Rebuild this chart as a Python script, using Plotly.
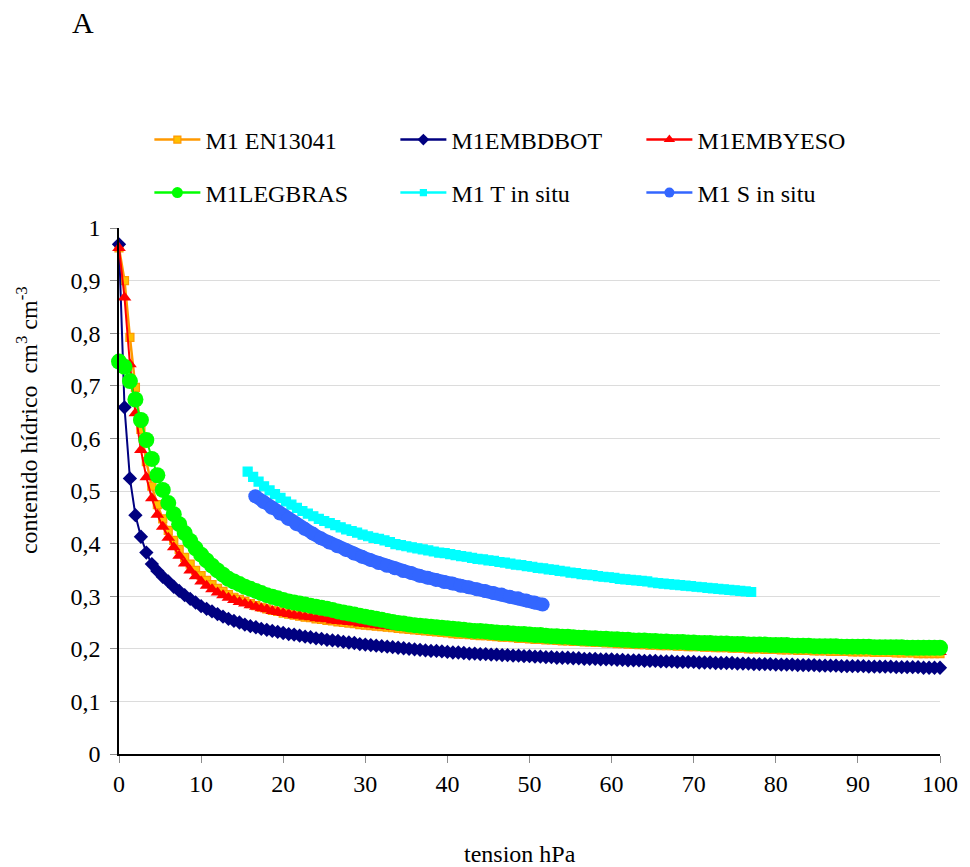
import plotly.graph_objects as go

# Tension grid (hPa) shared by the four laboratory curves, and the in-situ grids
tension_hpa = [round(k * 2 / 3, 2) for k in range(151)]
tension_t_in_situ = [round(15.67 + k * 2 / 3, 2) for k in range(93)]
tension_s_in_situ = [round(16.6 + k, 1) for k in range(36)]

# Water content (cm3 cm-3) for each series
m1_en13041 = [
    .962, .900, .792, .697, .617, .556, .509, .474, .447, .425,
    .406, .389, .374, .361, .349, .339, .330, .322, .315, .309,
    .303, .298, .294, .290, .286, .282, .279, .276, .273, .271,
    .268, .266, .264, .262, .260, .259, .257, .256, .254, .253,
    .251, .250, .249, .248, .246, .245, .244, .243, .242, .241,
    .240, .239, .238, .237, .236, .235, .234, .233, .232, .231,
    .230, .229, .228, .228, .227, .226, .225, .225, .224, .223,
    .222, .222, .221, .220, .220, .219, .218, .218, .217, .217,
    .216, .215, .215, .214, .214, .213, .213, .212, .212, .211,
    .211, .210, .210, .209, .209, .208, .208, .207, .207, .206,
    .206, .206, .205, .205, .204, .204, .204, .203, .203, .202,
    .202, .202, .201, .201, .201, .200, .200, .200, .199, .199,
    .199, .198, .198, .198, .197, .197, .197, .196, .196, .196,
    .195, .195, .195, .195, .194, .194, .194, .194, .193, .193,
    .193, .193, .192, .192, .192, .192, .191, .191, .191, .191,
    .191,
]

m1_embdbot = [
    .969, .659, .524, .454, .413, .383, .361, .348, .337, .328,
    .318, .310, .302, .295, .288, .281, .276, .271, .266, .261,
    .257, .253, .250, .246, .243, .241, .238, .236, .234, .232,
    .230, .228, .227, .225, .223, .222, .220, .219, .217, .216,
    .215, .213, .212, .211, .209, .208, .207, .206, .205, .204,
    .203, .202, .201, .200, .199, .198, .197, .196, .196, .195,
    .194, .193, .193, .192, .191, .191, .190, .190, .189, .189,
    .188, .188, .187, .187, .186, .186, .185, .185, .184, .184,
    .183, .183, .183, .182, .182, .181, .181, .181, .180, .180,
    .180, .179, .179, .178, .178, .178, .177, .177, .177, .176,
    .176, .176, .175, .175, .175, .175, .174, .174, .174, .173,
    .173, .173, .173, .172, .172, .172, .171, .171, .171, .171,
    .170, .170, .170, .170, .169, .169, .169, .169, .168, .168,
    .168, .168, .167, .167, .167, .167, .167, .166, .166, .166,
    .166, .166, .165, .165, .165, .165, .165, .164, .164, .164,
    .164,
]

m1_embyeso = [
    .962, .868, .741, .648, .578, .526, .486, .455, .432, .411,
    .393, .377, .362, .349, .338, .328, .320, .313, .307, .302,
    .297, .293, .289, .286, .283, .280, .277, .275, .272, .270,
    .268, .266, .264, .263, .261, .260, .258, .257, .256, .254,
    .253, .252, .251, .250, .248, .247, .246, .245, .244, .243,
    .242, .241, .240, .239, .238, .237, .236, .235, .234, .233,
    .232, .231, .231, .230, .229, .228, .228, .227, .226, .225,
    .225, .224, .223, .223, .222, .221, .221, .220, .220, .219,
    .218, .218, .217, .217, .216, .216, .215, .215, .214, .214,
    .213, .213, .212, .212, .211, .211, .210, .210, .209, .209,
    .209, .208, .208, .207, .207, .207, .206, .206, .205, .205,
    .205, .204, .204, .204, .203, .203, .203, .202, .202, .202,
    .201, .201, .201, .200, .200, .200, .200, .199, .199, .199,
    .198, .198, .198, .198, .197, .197, .197, .197, .196, .196,
    .196, .196, .195, .195, .195, .195, .195, .194, .194, .194,
    .194,
]

m1_legbras = [
    .746, .736, .709, .674, .635, .597, .561, .530, .502, .477,
    .456, .437, .420, .405, .391, .379, .368, .358, .349, .341,
    .333, .328, .323, .318, .314, .310, .306, .302, .299, .296,
    .293, .290, .288, .286, .284, .282, .280, .278, .276, .274,
    .271, .269, .267, .265, .263, .261, .259, .257, .255, .253,
    .251, .249, .248, .246, .245, .244, .243, .242, .241, .240,
    .239, .238, .237, .236, .235, .234, .234, .233, .232, .231,
    .230, .230, .229, .228, .228, .227, .226, .226, .225, .224,
    .224, .223, .223, .222, .221, .221, .220, .220, .219, .219,
    .218, .218, .217, .217, .216, .216, .216, .215, .215, .214,
    .214, .213, .213, .213, .212, .212, .211, .211, .211, .210,
    .210, .210, .209, .209, .209, .208, .208, .208, .208, .207,
    .207, .207, .207, .206, .206, .206, .206, .205, .205, .205,
    .205, .205, .204, .204, .204, .204, .204, .204, .203, .203,
    .203, .203, .203, .203, .202, .202, .202, .202, .202, .202,
    .202,
]

m1_t_in_situ = [
    .537, .527, .518, .509, .501, .494, .487, .480, .474, .468,
    .462, .457, .452, .447, .443, .439, .435, .431, .427, .424,
    .421, .417, .414, .411, .409, .406, .403, .399, .397, .395,
    .393, .391, .389, .387, .385, .383, .382, .380, .378, .376,
    .375, .373, .371, .370, .368, .367, .365, .364, .362, .360,
    .359, .357, .356, .354, .353, .351, .350, .348, .347, .345,
    .344, .342, .341, .340, .338, .337, .336, .335, .333, .332,
    .331, .330, .329, .328, .326, .325, .324, .323, .322, .321,
    .320, .319, .318, .317, .316, .315, .314, .313, .312, .311,
    .310, .309, .308,
]

m1_s_in_situ = [
    .490, .479, .468, .457, .447, .437, .428, .419, .410, .402,
    .395, .388, .381, .375, .369, .363, .358, .353, .348, .344,
    .339, .335, .331, .327, .324, .320, .317, .313, .310, .306,
    .303, .299, .296, .292, .288, .284,
]

SERIF = "Liberation Serif"
FONT_SIZE = 24

series = [
    dict(name="M1 EN13041", x=tension_hpa, y=m1_en13041, line="#FF9900",
         fill="#FFC000", symbol="square", size=8, width=2.5, legend="legend", lsize=7),
    dict(name="M1EMBDBOT", x=tension_hpa, y=m1_embdbot, line="#000080",
         fill="#000080", symbol="diamond", size=11, width=2, legend="legend", lsize=9),
    dict(name="M1EMBYESO", x=tension_hpa, y=m1_embyeso, line="#FF0000",
         fill="#FF0000", symbol="triangle-up", size=12, width=2, legend="legend", lsize=10),
    dict(name="M1LEGBRAS", x=tension_hpa, y=m1_legbras, line="#00FF00",
         fill="#00FF00", symbol="circle", size=16, width=2, legend="legend2", lsize=11),
    dict(name="M1 T in situ", x=tension_t_in_situ, y=m1_t_in_situ, line="#00FFFF",
         fill="#00FFFF", symbol="square", size=9, width=3, legend="legend2", lsize=6),
    dict(name="M1 S in situ", x=tension_s_in_situ, y=m1_s_in_situ, line="#3366FF",
         fill="#3366FF", symbol="circle", size=14, width=13, legend="legend2", lsize=10),
]

fig = go.Figure()

for s in series:
    fig.add_trace(go.Scatter(
        x=s["x"], y=s["y"], mode="lines+markers", showlegend=False,
        line=dict(color=s["line"], width=s["width"]),
        marker=dict(symbol=s["symbol"], size=s["size"], color=s["fill"],
                    line=dict(color=s["line"], width=1.2 if s["symbol"] == "square" else 0)),
        cliponaxis=False,
    ))

# Legend entries use smaller symbols than the plotted markers
for s in series:
    fig.add_trace(go.Scatter(
        x=[None], y=[None], mode="lines+markers", name=s["name"], legend=s["legend"],
        line=dict(color=s["line"], width=2.5),
        marker=dict(symbol=s["symbol"], size=s["lsize"], color=s["fill"],
                    line=dict(color=s["line"], width=1.2 if s["symbol"] == "square" else 0)),
    ))

legend_common = dict(
    orientation="h", xanchor="left", yanchor="middle", x=0.037,
    entrywidth=185, entrywidthmode="pixels", itemwidth=46,
    font=dict(family=SERIF, size=FONT_SIZE, color="black"), bgcolor="rgba(0,0,0,0)",
    itemclick=False, itemdoubleclick=False,
)

tick_font = dict(family=SERIF, size=FONT_SIZE, color="black")

fig.update_layout(
    width=970, height=867,
    margin=dict(l=119, r=22, t=228, b=113),
    paper_bgcolor="white", plot_bgcolor="white",
    separators=",.",
    font=dict(family=SERIF, size=FONT_SIZE, color="black"),
    legend=dict(y=1.1673, **legend_common),
    legend2=dict(y=1.0665, **legend_common),
    xaxis=dict(
        range=[0, 100], tick0=0, dtick=10, ticks="outside", ticklen=7,
        tickcolor="#8c8c8c", showline=True, linecolor="black", linewidth=1.5,
        showgrid=False, zeroline=False, tickfont=tick_font,
    ),
    yaxis=dict(
        range=[0, 1], tick0=0, dtick=0.1, ticks="outside", ticklen=7,
        tickcolor="#8c8c8c", showline=True, linecolor="black", linewidth=1.5,
        showgrid=True, gridcolor="#dcdcdc", gridwidth=1, zeroline=False,
        tickfont=tick_font, ticklabelstandoff=5,
    ),
    annotations=[
        dict(text="contenido hídrico\u00a0 cm<sup>3</sup> cm<sup>-3</sup>",
             xref="paper", yref="paper", x=-0.112, y=0.635, textangle=-90,
             showarrow=False, font=dict(family=SERIF, size=FONT_SIZE, color="black"),
             xanchor="center", yanchor="middle"),
        dict(text="tension hPa", xref="paper", yref="paper", x=0.4885, y=-0.191,
             showarrow=False, font=dict(family=SERIF, size=FONT_SIZE, color="black"),
             xanchor="center", yanchor="middle"),
        dict(text="A", xref="paper", yref="paper", x=-0.0434, y=1.39,
             showarrow=False, font=dict(family=SERIF, size=30, color="black"),
             xanchor="center", yanchor="middle"),
    ],
)

fig.write_html("out.html")
